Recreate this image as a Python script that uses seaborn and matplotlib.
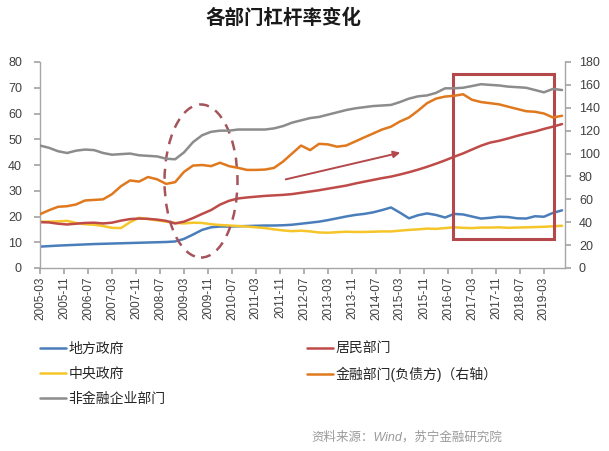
import numpy as np
import pandas as pd
import matplotlib
matplotlib.use('Agg')
import matplotlib.pyplot as plt
from matplotlib.patches import Rectangle, Ellipse, FancyArrowPatch
from matplotlib.lines import Line2D
import seaborn as sns

sns.set_theme(style='white')
plt.rcParams['font.family'] = ['Liberation Sans', 'Noto Sans CJK SC', 'DejaVu Sans']
plt.rcParams['axes.unicode_minus'] = False

# ---------------- data (quarterly, 2005-03 .. 2019-09) ----------------
quarters = pd.date_range('2005-03-01', '2019-09-01', freq='3MS')

tick_labels = ['2005-03', '2005-11', '2006-07', '2007-03', '2007-11', '2008-07',
               '2009-03', '2009-11', '2010-07', '2011-03', '2011-11', '2012-07',
               '2013-03', '2013-11', '2014-07', '2015-03', '2015-11', '2016-07',
               '2017-03', '2017-11', '2018-07', '2019-03']

local_gov = [8.3, 8.5, 8.7, 8.85, 9.0, 9.15, 9.3, 9.4, 9.5, 9.6, 9.7, 9.8, 9.9, 10.0, 10.1, 10.3,
             11.3, 13.0, 14.8, 15.8, 16.1, 16.1, 16.2, 16.3, 16.4, 16.5, 16.5, 16.6, 16.8, 17.2, 17.6, 18.0,
             18.6, 19.3, 20.0, 20.6, 21.0, 21.6, 22.5, 23.5, 21.5, 19.3, 20.5, 21.2, 20.6, 19.6, 21.0, 20.8,
             20.0, 19.2, 19.5, 19.9, 19.8, 19.3, 19.2, 20.1, 19.9, 21.4, 22.4]

central_gov = [18.0, 18.0, 18.1, 18.3, 17.5, 17.0, 16.8, 16.3, 15.6, 15.5, 17.8, 19.5, 19.0, 18.5, 18.0, 17.5,
               17.3, 17.6, 17.5, 17.0, 16.7, 16.5, 16.3, 16.1, 15.8, 15.5, 15.0, 14.6, 14.3, 14.5, 14.2, 13.8,
               13.7, 13.9, 14.1, 14.0, 14.0, 14.1, 14.2, 14.2, 14.5, 14.8, 15.0, 15.3, 15.2, 15.5, 15.8, 15.6,
               15.5, 15.7, 15.7, 15.8, 15.6, 15.7, 15.8, 15.9, 16.0, 16.2, 16.4]

household = [17.8, 17.7, 17.2, 16.9, 17.2, 17.5, 17.6, 17.3, 17.6, 18.4, 19.0, 19.2, 19.1, 18.8, 18.3, 17.3,
             18.0, 19.4, 21.0, 22.5, 24.6, 26.1, 27.0, 27.4, 27.7, 28.0, 28.2, 28.4, 28.7, 29.2, 29.7, 30.2,
             30.8, 31.4, 32.0, 32.8, 33.5, 34.2, 34.9, 35.5, 36.3, 37.2, 38.2, 39.3, 40.5, 41.8, 43.2, 44.5,
             46.0, 47.5, 48.7, 49.4, 50.3, 51.3, 52.2, 53.0, 54.0, 54.9, 55.9]

nonfin_corp = [107.0, 105.0, 102.0, 100.5, 102.5, 103.5, 103.0, 100.5, 99.0, 99.5, 100.0, 98.5, 98.0, 97.5, 95.5, 95.0,
               101.0, 110.0, 116.0, 119.0, 120.0, 120.0, 121.0, 121.0, 121.0, 121.0, 122.0, 124.0, 127.0, 129.0, 131.0, 132.0,
               134.0, 136.0, 138.0, 139.5, 140.5, 141.5, 142.0, 142.5, 145.0, 148.0, 150.0, 150.8, 153.0, 157.0, 157.0, 157.5,
               159.0, 160.6, 160.0, 159.5, 158.5, 158.0, 157.5, 155.5, 153.5, 156.5, 155.5]

financial = [47.0, 50.5, 53.5, 54.0, 55.5, 59.0, 59.5, 60.0, 64.5, 71.5, 76.5, 75.5, 79.5, 77.5, 73.5, 75.0,
             84.0, 89.5, 90.0, 89.0, 92.0, 89.0, 87.5, 85.7, 85.7, 86.0, 87.5, 93.0, 100.0, 107.0, 103.0, 108.5,
             108.0, 106.0, 107.0, 110.5, 114.0, 117.5, 121.0, 123.5, 128.0, 131.5, 137.5, 144.0, 148.0, 149.8, 150.5, 151.8,
             147.0, 145.0, 144.0, 143.0, 141.0, 139.0, 137.0, 136.5, 135.0, 131.5, 133.0]

names = ['地方政府', '中央政府', '非金融企业部门', '居民部门', '金融部门(负债方)（右轴）']
colors = {'地方政府': '#4a7ebb', '中央政府': '#f5c52a', '非金融企业部门': '#8c8c8c',
          '居民部门': '#be4b48', '金融部门(负债方)（右轴）': '#e0781e'}

df = pd.DataFrame({'date': quarters, '地方政府': local_gov, '中央政府': central_gov,
                   '居民部门': household, '非金融企业部门': nonfin_corp,
                   '金融部门(负债方)（右轴）': financial})

# ---------------- figure ----------------
fig = plt.figure(figsize=(6.09, 4.51), dpi=100)
ax = fig.add_axes([40/609, 1-268/451, (565-40)/609, (268-62)/451])
ax2 = ax.twinx()

LW = 1.8
for col in ['地方政府', '中央政府', '居民部门']:
    sns.lineplot(data=df, x='date', y=col, ax=ax, color=colors[col], lw=LW, legend=False)
for col in ['非金融企业部门', '金融部门(负债方)（右轴）']:
    sns.lineplot(data=df, x='date', y=col, ax=ax2, color=colors[col], lw=LW, legend=False)

ax.set_ylim(0, 80)
ax.set_yticks(np.arange(0, 81, 10))
ax2.set_ylim(0, 180)
ax2.set_yticks(np.arange(0, 181, 20))
ax.set_xlim(quarters[0], pd.Timestamp('2019-10-01'))
ax.set_xticks(pd.to_datetime(tick_labels, format='%Y-%m'))
ax.set_xticklabels(tick_labels, rotation=90)
for a in (ax, ax2):
    a.set_xlabel('')
    a.set_ylabel('')
    a.grid(False)

spine_c = '#a6a6a6'
for a in (ax, ax2):
    a.spines['top'].set_visible(False)
    for s in a.spines.values():
        s.set_color(spine_c)
        s.set_linewidth(1.0)
ax.spines['right'].set_visible(False)
ax2.spines['left'].set_visible(False)
ax2.spines['bottom'].set_visible(False)

ax.tick_params(axis='y', left=True, direction='out', length=4, color=spine_c,
               labelsize=9, labelcolor='#404040', pad=9)
ax.tick_params(axis='x', bottom=True, direction='out', length=4, color=spine_c,
               labelsize=8.5, labelcolor='#404040', pad=2)
ax2.tick_params(axis='y', right=True, direction='out', length=4, color=spine_c,
                labelsize=9, labelcolor='#404040', pad=6)

# ---------------- annotations ----------------
ax.add_patch(Rectangle((0.7867, 0.1408), 0.979-0.7867, 0.9417-0.1408, transform=ax.transAxes,
                       fill=False, edgecolor='#b5484b', lw=2.2, zorder=5, clip_on=False))
ax.add_patch(Ellipse((0.3067, 0.4223), 0.139, 0.743, transform=ax.transAxes,
                     fill=False, edgecolor='#a4545a', lw=1.8, ls=(0, (4, 3)), zorder=5, clip_on=False))
ax.add_patch(FancyArrowPatch((0.4629, 0.4272), (0.6914, 0.5631), transform=ax.transAxes,
                             arrowstyle='-|>', mutation_scale=10, color='#b5484b', lw=1.4, zorder=5))

# ---------------- legends ----------------
def handles(keys):
    return [Line2D([0], [0], color=colors[k], lw=LW) for k in keys]

leg_kw = dict(frameon=False, fontsize=10, handlelength=1.85, handletextpad=0.2,
              labelspacing=0.78, borderpad=0, borderaxespad=0, loc='upper left')
left_keys = ['地方政府', '中央政府', '非金融企业部门']
right_keys = ['居民部门', '金融部门(负债方)（右轴）']
l1 = fig.legend(handles(left_keys), left_keys, bbox_to_anchor=(40/609, 1-342/451), **leg_kw)
l2 = fig.legend(handles(right_keys), right_keys, bbox_to_anchor=(307/609, 1-342/451), **leg_kw)
for l in (l1, l2):
    for t in l.get_texts():
        t.set_color('#262626')

# ---------------- texts ----------------
fig.text(283/609, 1-18/451, '各部门杠杆率变化', ha='center', va='center',
         fontsize=14, fontweight='bold', color='#1a1a1a', family=['Noto Sans CJK SC', 'DejaVu Sans'])
fig.text(502/609, 1-437/451, '资料来源：Wind，苏宁金融研究院', ha='right', va='center',
         fontsize=9, color='#9a9a9a', style='italic')

fig.savefig('out.png', dpi=100)
